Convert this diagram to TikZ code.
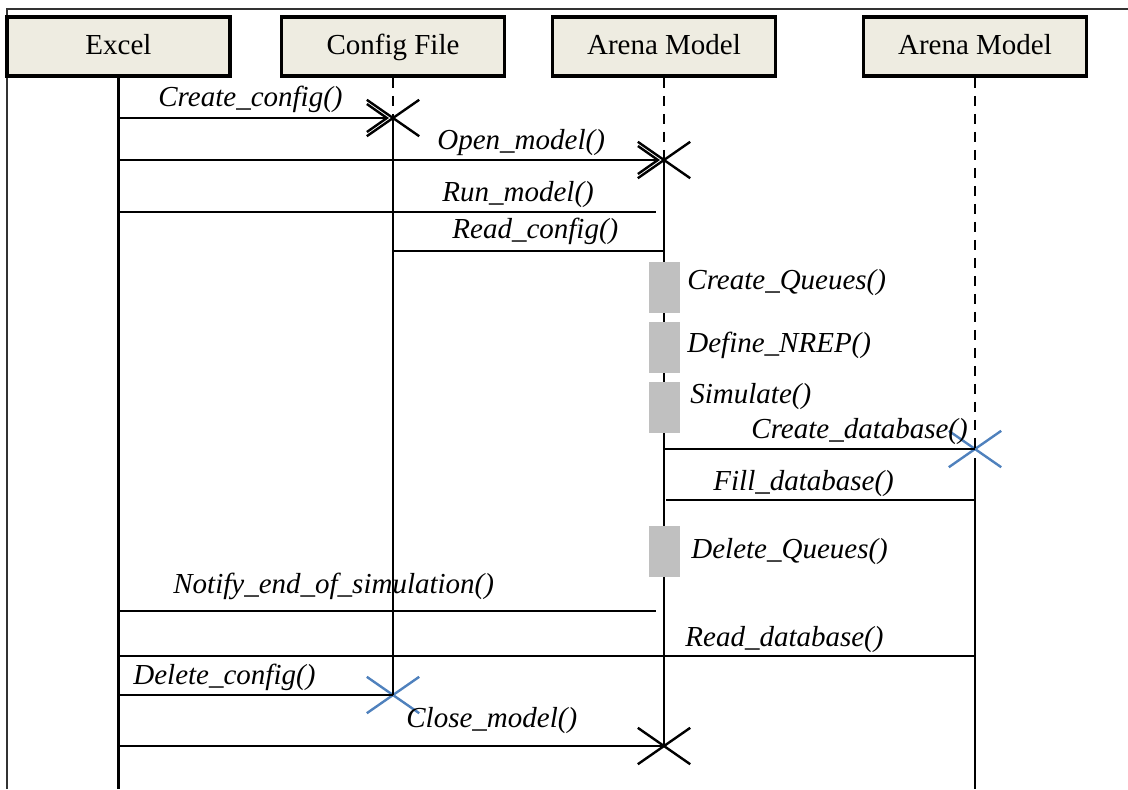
\documentclass[tikz,border=0pt]{standalone}
\usepackage{fontspec}
\setmainfont{Liberation Serif}
\usetikzlibrary{arrows.meta,shapes.misc}

\definecolor{boxfill}{HTML}{EEECE1}
\definecolor{crossblue}{HTML}{4F81BD}
\definecolor{actgray}{HTML}{C0C0C0}

\tikzset{
  actor/.style={draw,line width=1.8pt,fill=boxfill,minimum width=111.5pt,
    minimum height=29.5pt,inner sep=0pt,text height=11pt,text depth=3pt,
    font=\fontsize{14.5}{17}\selectfont},
  life/.style={line width=1.2pt},
  lifedash/.style={line width=1.2pt,dash pattern=on 5pt off 4pt},
  msg/.style={line width=1.2pt},
  call/.style={msg,-{Straight Barb[length=10pt,width=14pt,line width=1.2pt]}},
  lbl/.style={anchor=base west,inner sep=0pt,font=\fontsize{14.5}{17}\selectfont\itshape},
  actbar/.style={fill=actgray,draw=none,minimum width=15.5pt,minimum height=25.5pt,inner sep=0pt},
  endx/.style={cross out,draw,line width=1.2pt,minimum width=25pt,minimum height=17pt,inner sep=0pt},
}

\begin{document}
\begin{tikzpicture}[x=0.5pt,y=-0.5pt]
    \useasboundingbox (0,0) rectangle (1128,789);
    \draw [line width=0.6pt,black!80] (7,789) -- (7,9) -- (1128,9);

    % message rows
    \coordinate (r-create) at (0,118);
    \coordinate (r-open) at (0,160);
    \coordinate (r-run) at (0,212);
    \coordinate (r-read) at (0,251);
    \coordinate (r-cdb) at (0,449);
    \coordinate (r-fill) at (0,500);
    \coordinate (r-notify) at (0,611);
    \coordinate (r-rdb) at (0,656);
    \coordinate (r-delcfg) at (0,695);
    \coordinate (r-close) at (0,746);
    \coordinate (r-end) at (0,789);

    % objects
    \node[actor] (excel) at (118.5,46.5) {Excel};
    \node[actor] (config) at (393,46.5) {Config File};
    \node[actor] (arena) at (664,46.5) {Arena Model};
    \node[actor] (arena2) at (975,46.5) {Arena Model};

    \node[endx] (x-cfg) at (config |- r-create) {};
    \node[endx] (x-arena) at (arena |- r-open) {};
    \node[endx,draw=crossblue] (x-db) at (arena2 |- r-cdb) {};
    \node[endx,draw=crossblue] (x-cfgdel) at (config |- r-delcfg) {};
    \node[endx] (x-close) at (arena |- r-close) {};

    % lifelines
    \draw [life] (excel.south) -- (excel |- r-end);
    \draw [lifedash] (config.south) -- (x-cfg.center);
    \draw [life] (x-cfg.center) -- (x-cfgdel.center);
    \draw [lifedash] (arena.south) -- (x-arena.center);
    \draw [life] (x-arena.center) -- (x-close.center);
    \draw [lifedash] (arena2.south) -- (x-db.center);
    \draw [life] ([yshift=-4.5pt]x-db.center) -- (arena2 |- r-end);

    % activations
    \node[actbar] (q-create) at (664.5,287.5) {};
    \node[actbar] (q-nrep) at (664.5,347.5) {};
    \node[actbar] (q-sim) at (664.5,407.5) {};
    \node[actbar] (q-delete) at (664.5,551) {};

    % messages
    \draw [call] (excel |- r-create) -- ([xshift=-2pt]x-cfg.center);
    \draw [call] (excel |- r-open) -- ([xshift=-2pt]x-arena.center);
    \draw [msg] (excel |- r-run) -- ([xshift=-4pt]arena |- r-run);
    \draw [msg] (config |- r-read) -- (arena |- r-read);
    \draw [msg] (arena |- r-cdb) -- (x-db.center);
    \draw [msg] ([xshift=1pt]arena |- r-fill) -- (arena2 |- r-fill);
    \draw [msg] (excel |- r-notify) -- ([xshift=-4pt]arena |- r-notify);
    \draw [msg] (excel |- r-rdb) -- (arena2 |- r-rdb);
    \draw [msg] (excel |- r-delcfg) -- (x-cfgdel.center);
    \draw [msg] (excel |- r-close) -- (x-close.center);

    % labels
    \node[lbl] (l-create) at (158,106) {Create\_config()};
    \node[lbl] (l-open) at (437,149) {Open\_model()};
    \node[lbl] (l-run) at (442,201) {Run\_model()};
    \node[lbl] (l-read) at (452,238) {Read\_config()};
    \node[lbl] (l-queues) at (687,289) {Create\_Queues()};
    \node[lbl] (l-nrep) at (687,352) {Define\_NREP()};
    \node[lbl] (l-sim) at (690,403) {Simulate()};
    \node[lbl] (l-cdb) at (751,438) {Create\_database()};
    \node[lbl] (l-fill) at (713,490) {Fill\_database()};
    \node[lbl] (l-delq) at (691,558) {Delete\_Queues()};
    \node[lbl] (l-notify) at (173,593) {Notify\_end\_of\_simulation()};
    \node[lbl] (l-rdb) at (685,646) {Read\_database()};
    \node[lbl] (l-delcfg) at (133,684) {Delete\_config()};
    \node[lbl] (l-close) at (406,727) {Close\_model()};
\end{tikzpicture}
\end{document}
